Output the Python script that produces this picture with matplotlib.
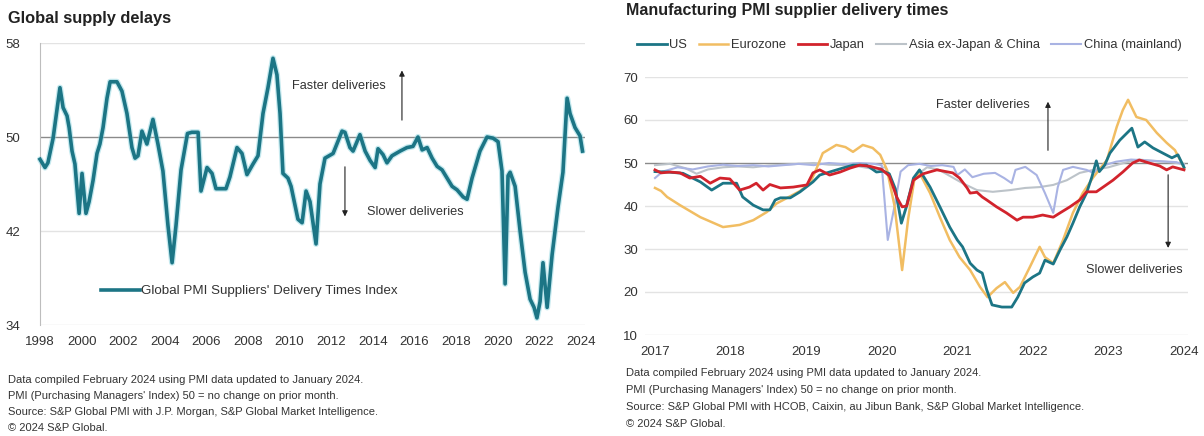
import numpy as np
import matplotlib
matplotlib.use("Agg")
import matplotlib.pyplot as plt

plt.rcParams['font.family'] = ['Liberation Sans', 'DejaVu Sans']

# ---------------- data: left panel (global index) ----------------
glob_t = [1998.00, 1998.24, 1998.38, 1998.63, 1998.96, 1999.11, 1999.30, 1999.40, 1999.54, 1999.68,
          1999.88, 2000.02, 2000.21, 2000.36, 2000.55, 2000.74, 2000.88, 2001.03, 2001.22, 2001.37,
          2001.70, 2001.94, 2002.18, 2002.42, 2002.57, 2002.71, 2002.90, 2003.14, 2003.43, 2003.67,
          2003.91, 2004.15, 2004.35, 2004.54, 2004.78, 2005.09, 2005.30, 2005.60, 2005.74, 2006.03,
          2006.27, 2006.46, 2006.94, 2007.13, 2007.47, 2007.71, 2007.95, 2008.24, 2008.48, 2008.72,
          2008.96, 2009.20, 2009.39, 2009.54, 2009.68, 2009.92, 2010.07, 2010.40, 2010.60, 2010.79,
          2010.98, 2011.27, 2011.46, 2011.70, 2012.09, 2012.52, 2012.66, 2012.90, 2013.05, 2013.38,
          2013.63, 2013.87, 2014.11, 2014.25, 2014.49, 2014.68, 2014.92, 2015.31, 2015.64, 2015.93,
          2016.17, 2016.37, 2016.61, 2016.85, 2017.09, 2017.33, 2017.57, 2017.81, 2018.05, 2018.34,
          2018.53, 2018.77, 2019.15, 2019.49, 2019.78, 2020.02, 2020.21, 2020.36, 2020.50, 2020.60,
          2020.84, 2021.08, 2021.32, 2021.56, 2021.75, 2021.89, 2022.04, 2022.18, 2022.38, 2022.62,
          2022.90, 2023.14, 2023.34, 2023.48, 2023.72, 2023.96, 2024.08]
glob_v = [48.1, 47.4, 47.8, 49.9, 54.2, 52.5, 51.8, 50.8, 48.8, 47.7,
          43.5, 46.9, 43.5, 44.5, 46.3, 48.6, 49.4, 50.8, 53.3, 54.7,
          54.7, 53.9, 52.0, 49.1, 48.2, 48.4, 50.5, 49.4, 51.5, 49.4,
          47.1, 42.5, 39.3, 42.5, 47.2, 50.3, 50.4, 50.4, 45.4, 47.4,
          46.9, 45.6, 45.6, 46.6, 49.1, 48.6, 46.8, 47.7, 48.4, 52.0,
          54.2, 56.7, 55.3, 52.0, 46.9, 46.5, 45.8, 43.0, 42.7, 45.4,
          44.5, 40.9, 46.0, 48.2, 48.6, 50.5, 50.4, 49.1, 48.8, 50.2,
          48.8, 48.0, 47.4, 49.0, 48.5, 47.8, 48.4, 48.8, 49.1, 49.2,
          50.0, 48.9, 49.1, 48.2, 47.5, 47.2, 46.5, 45.8, 45.5, 44.9,
          44.7, 46.5, 48.8, 50.0, 49.9, 49.6, 47.1, 37.5, 46.7, 47.0,
          45.8, 42.0, 38.5, 36.2, 35.5, 34.6, 36.0, 39.3, 35.5, 40.0,
          44.0, 47.0, 53.3, 52.0, 50.8, 50.1, 48.8]
glob_ticks = list(range(1998, 2025, 2))
glob_yticks = [34, 42, 50, 58]

# ---------------- data: right panel (regional indices) ----------------
us_t = [2017.00, 2017.17, 2017.37, 2017.60, 2017.75, 2017.90, 2018.08, 2018.16, 2018.30, 2018.43,
        2018.52, 2018.59, 2018.66, 2018.79, 2018.92, 2019.09, 2019.18, 2019.31, 2019.48, 2019.62,
        2019.80, 2019.93, 2020.02, 2020.10, 2020.18, 2020.26, 2020.33, 2020.42, 2020.50, 2020.64,
        2020.77, 2020.90, 2021.00, 2021.07, 2021.17, 2021.26, 2021.33, 2021.39, 2021.46, 2021.59,
        2021.72, 2021.80, 2021.89, 2022.00, 2022.09, 2022.16, 2022.27, 2022.36, 2022.45, 2022.53,
        2022.62, 2022.71, 2022.78, 2022.84, 2022.88, 2022.95, 2023.02, 2023.15, 2023.31, 2023.39,
        2023.48, 2023.59, 2023.72, 2023.84, 2023.92, 2024.00]
us_v = [48.0, 47.9, 47.6, 45.6, 43.7, 45.3, 45.3, 42.1, 40.2, 39.1,
        39.1, 41.4, 41.9, 41.9, 43.3, 45.6, 47.2, 47.9, 48.8, 49.5,
        49.5, 47.9, 48.1, 47.5, 44.0, 36.0, 40.0, 46.5, 48.4, 44.4,
        39.8, 35.1, 32.1, 30.5, 26.7, 25.1, 24.4, 20.5, 17.0, 16.5,
        16.5, 18.8, 22.1, 23.5, 24.4, 27.4, 26.5, 29.8, 32.8, 36.0,
        39.8, 43.0, 46.7, 50.5, 48.0, 49.5, 52.3, 55.3, 58.1, 53.7,
        54.9, 53.5, 52.3, 51.2, 51.9, 49.0]

ez_t = [2017.00, 2017.08, 2017.16, 2017.33, 2017.60, 2017.90, 2018.12, 2018.30, 2018.48, 2018.61,
        2018.75, 2018.92, 2019.05, 2019.14, 2019.22, 2019.40, 2019.52, 2019.62, 2019.75, 2019.88,
        2019.98, 2020.07, 2020.17, 2020.27, 2020.35, 2020.43, 2020.50, 2020.64, 2020.77, 2020.90,
        2021.03, 2021.17, 2021.30, 2021.40, 2021.52, 2021.63, 2021.74, 2021.83, 2021.96, 2022.09,
        2022.16, 2022.27, 2022.40, 2022.53, 2022.66, 2022.80, 2022.98, 2023.11, 2023.19, 2023.26,
        2023.37, 2023.50, 2023.64, 2023.77, 2023.88, 2023.97, 2024.00]
ez_v = [44.2, 43.5, 42.1, 40.2, 37.4, 35.1, 35.6, 36.7, 38.6, 40.6,
        41.9, 43.5, 45.3, 48.8, 52.3, 54.2, 53.7, 52.6, 54.2, 53.5,
        51.9, 48.4, 40.0, 25.1, 37.0, 46.0, 47.7, 43.0, 37.4, 32.1,
        28.1, 25.1, 21.2, 18.8, 20.9, 22.3, 19.8, 21.2, 25.8, 30.5,
        28.1, 26.7, 32.1, 38.4, 43.0, 46.7, 50.7, 58.4, 62.3, 64.7,
        60.7, 60.0, 57.0, 54.7, 53.0, 50.0, 48.8]

jp_t = [2017.00, 2017.08, 2017.20, 2017.33, 2017.46, 2017.60, 2017.73, 2017.86, 2017.99, 2018.12,
        2018.25, 2018.34, 2018.43, 2018.52, 2018.66, 2018.83, 2019.01, 2019.09, 2019.18, 2019.31,
        2019.45, 2019.58, 2019.71, 2019.85, 2020.00, 2020.10, 2020.20, 2020.27, 2020.33, 2020.42,
        2020.55, 2020.73, 2020.94, 2021.03, 2021.13, 2021.17, 2021.26, 2021.33, 2021.39, 2021.52,
        2021.65, 2021.79, 2021.87, 2022.00, 2022.13, 2022.27, 2022.36, 2022.49, 2022.62, 2022.71,
        2022.84, 2022.93, 2023.06, 2023.19, 2023.32, 2023.41, 2023.54, 2023.68, 2023.77, 2023.85,
        2024.00]
jp_v = [48.4, 47.7, 47.9, 47.7, 46.5, 46.9, 45.3, 46.5, 46.3, 43.7,
        44.4, 45.3, 43.7, 45.0, 44.2, 44.4, 44.9, 47.7, 48.4, 47.2,
        47.9, 48.8, 49.5, 49.2, 48.5, 47.0, 42.0, 39.8, 40.0, 46.0,
        47.5, 48.4, 47.7, 46.5, 44.2, 43.0, 43.2, 42.1, 41.4, 39.8,
        38.4, 36.7, 37.4, 37.4, 37.9, 37.4, 38.4, 39.8, 41.4, 43.3,
        43.3, 44.4, 46.0, 47.9, 50.0, 50.7, 50.0, 49.3, 48.4, 49.1,
        48.4]

asia_t = [2017.0, 2017.2, 2017.4, 2017.55, 2017.7, 2017.9, 2018.1, 2018.3, 2018.5, 2018.7,
          2018.9, 2019.1, 2019.3, 2019.5, 2019.7, 2019.9, 2020.05, 2020.15, 2020.27, 2020.35,
          2020.45, 2020.6, 2020.75, 2020.9, 2021.07, 2021.26, 2021.47, 2021.7, 2021.9, 2022.09,
          2022.27, 2022.45, 2022.62, 2022.8, 2023.0, 2023.2, 2023.4, 2023.6, 2023.8, 2024.0]
asia_v = [49.5, 49.8, 48.8, 47.5, 48.5, 49.0, 49.2, 49.0, 49.4, 49.6,
          49.8, 50.0, 49.6, 49.5, 49.2, 48.6, 49.0, 45.0, 36.5, 42.0,
          47.0, 49.0, 48.5, 47.0, 45.3, 43.7, 43.3, 43.7, 44.2, 44.4,
          44.9, 46.0, 47.7, 48.4, 49.0, 50.0, 50.8, 50.5, 50.2, 49.8]

cn_t = [2017.0, 2017.1, 2017.3, 2017.5, 2017.7, 2017.9, 2018.1, 2018.3, 2018.5, 2018.7,
        2018.9, 2019.1, 2019.3, 2019.5, 2019.7, 2019.9, 2020.0, 2020.08, 2020.17, 2020.25,
        2020.35, 2020.5, 2020.65, 2020.8, 2020.95, 2021.0, 2021.1, 2021.2, 2021.35, 2021.5,
        2021.62, 2021.72, 2021.77, 2021.9, 2022.05, 2022.16, 2022.27, 2022.33, 2022.4, 2022.53,
        2022.71, 2022.8, 2022.95, 2023.1, 2023.3, 2023.5, 2023.7, 2023.9, 2024.0]
cn_v = [46.5, 48.0, 49.0, 48.5, 49.2, 49.6, 49.3, 49.5, 49.2, 49.5,
        49.8, 49.5, 50.0, 49.7, 50.0, 49.8, 49.5, 32.1, 40.0, 48.0,
        49.5, 49.8, 49.3, 49.5, 49.1, 47.2, 48.5, 46.7, 47.5, 47.7,
        46.5, 45.3, 48.4, 49.1, 47.2, 43.0, 38.4, 44.4, 48.4, 49.1,
        48.4, 47.7, 49.5, 50.3, 50.8, 50.6, 50.4, 50.2, 49.6]

reg_ticks = list(range(2017, 2025))
reg_yticks = [10, 20, 30, 40, 50, 60, 70]

teal = '#1c7585'
grid_c = '#e3e3e3'
ref_c = '#8a8a8a'
txt_c = '#333333'
tick_fs = 9.5
note_fs = 8.0
ann_fs = 9.2

fig = plt.figure(figsize=(12.04, 4.36), dpi=100)
W, H = 1204, 436

def px_axes(x0, y0, x1, y1):
    # pixel box (top-left origin) -> figure axes
    return fig.add_axes([x0 / W, 1 - y1 / H, (x1 - x0) / W, (y1 - y0) / H])

# ---------------- left panel ----------------
ax1 = px_axes(40, 43, 585, 325)
ax1.set_xlim(1998, 2024.2)
ax1.set_ylim(34, 58)
for y in glob_yticks:
    if y == 50:
        ax1.axhline(y, color=ref_c, lw=1.0, zorder=1)
    else:
        ax1.axhline(y, color=grid_c, lw=1.0, zorder=0)
ax1.plot(glob_t, glob_v, color='#7fd0dc', lw=4.4, alpha=0.45, solid_capstyle='round', zorder=2, clip_on=False)
ax1.plot(glob_t, glob_v, color=teal, lw=2.6, zorder=3, clip_on=False,
         label="Global PMI Suppliers' Delivery Times Index")
ax1.set_xticks(glob_ticks)
ax1.set_yticks(glob_yticks)
for s in ['top', 'right', 'bottom']:
    ax1.spines[s].set_visible(False)
ax1.spines['left'].set_color('#bdbdbd')
ax1.tick_params(axis='both', length=0, labelsize=tick_fs, labelcolor=txt_c)
ax1.tick_params(axis='y', pad=14)
ax1.tick_params(axis='x', pad=8)
leg1 = ax1.legend(loc='center left', bbox_to_anchor=(0.112, 0.12), frameon=False, fontsize=9.6,
                  handlelength=2.9, handletextpad=0.1, borderpad=0, borderaxespad=0)
for t in leg1.get_texts():
    t.set_color(txt_c)

ax1.annotate('', xy=(2015.4, 55.9), xytext=(2015.4, 51.2),
             arrowprops=dict(arrowstyle='-|>', color='#222222', lw=0.8, mutation_scale=8))
ax1.text(2014.6, 54.3, 'Faster deliveries', ha='right', va='center', fontsize=ann_fs, color=txt_c)
ax1.annotate('', xy=(2012.66, 43.0), xytext=(2012.66, 47.7),
             arrowprops=dict(arrowstyle='-|>', color='#222222', lw=0.8, mutation_scale=8))
ax1.text(2013.7, 43.6, 'Slower deliveries', ha='left', va='center', fontsize=ann_fs, color=txt_c)

fig.text(8 / W, 1 - 18 / H, 'Global supply delays', fontsize=11.8, fontweight='bold',
         color='#222222', ha='left', va='center')

left_notes = ['Data compiled February 2024 using PMI data updated to January 2024.',
              "PMI (Purchasing Managers' Index) 50 = no change on prior month.",
              'Source: S&P Global PMI with J.P. Morgan, S&P Global Market Intelligence.',
              '\u00a9 2024 S&P Global.']
for i, line in enumerate(left_notes):
    fig.text(8 / W, 1 - (380 + i * 16) / H, line, fontsize=note_fs, color=txt_c, ha='left', va='center')

# ---------------- right panel ----------------
ax2 = px_axes(645, 77, 1188, 335)
ax2.set_xlim(2017 - 10 / 75.57, 2024 + 4 / 75.57)
ax2.set_ylim(10, 70)
for y in reg_yticks:
    if y == 50:
        ax2.axhline(y, color=ref_c, lw=1.0, zorder=1)
    else:
        ax2.axhline(y, color=grid_c, lw=1.0, zorder=0)
ax2.plot(asia_t, asia_v, color='#bcc3c9', lw=1.5, zorder=2, clip_on=False, label='Asia ex-Japan & China')
ax2.plot(cn_t, cn_v, color='#a9b3e3', lw=1.5, zorder=2, clip_on=False, label='China (mainland)')
ax2.plot(ez_t, ez_v, color='#f1bd62', lw=1.8, zorder=3, clip_on=False, label='Eurozone')
ax2.plot(us_t, us_v, color=teal, lw=2.0, zorder=4, clip_on=False, label='US')
ax2.plot(jp_t, jp_v, color='#d2232c', lw=2.0, zorder=5, clip_on=False, label='Japan')
ax2.set_xticks(reg_ticks)
ax2.set_yticks(reg_yticks)
for s in ax2.spines.values():
    s.set_visible(False)
ax2.tick_params(axis='both', length=0, labelsize=tick_fs, labelcolor=txt_c)
ax2.tick_params(axis='y', pad=5)
ax2.tick_params(axis='x', pad=8)

handles, labels = ax2.get_legend_handles_labels()
order = ['US', 'Eurozone', 'Japan', 'Asia ex-Japan & China', 'China (mainland)']
hmap = dict(zip(labels, handles))
leg2 = ax2.legend([hmap[k] for k in order], order, loc='center left',
                  bbox_to_anchor=(-0.015, 1.124), ncol=5, frameon=False, fontsize=9.3,
                  handlelength=2.3, handletextpad=0.2, columnspacing=0.9,
                  borderpad=0, borderaxespad=0)
for t in leg2.get_texts():
    t.set_color(txt_c)

ax2.annotate('', xy=(2022.2, 64.9), xytext=(2022.2, 52.3),
             arrowprops=dict(arrowstyle='-|>', color='#222222', lw=0.8, mutation_scale=8))
ax2.text(2021.96, 63.5, 'Faster deliveries', ha='right', va='center', fontsize=ann_fs, color=txt_c)
ax2.annotate('', xy=(2023.79, 29.6), xytext=(2023.79, 47.9),
             arrowprops=dict(arrowstyle='-|>', color='#222222', lw=0.8, mutation_scale=8))
ax2.text(2023.98, 25.1, 'Slower deliveries', ha='right', va='center', fontsize=ann_fs, color=txt_c)

fig.text(626 / W, 1 - 11 / H, 'Manufacturing PMI supplier delivery times', fontsize=11.5,
         fontweight='bold', color='#222222', ha='left', va='center')

right_notes = ['Data compiled February 2024 using PMI data updated to January 2024.',
               "PMI (Purchasing Managers' Index) 50 = no change on prior month.",
               'Source: S&P Global PMI with HCOB, Caixin, au Jibun Bank, S&P Global Market Intelligence.',
               '\u00a9 2024 S&P Global.']
for i, line in enumerate(right_notes):
    fig.text(626 / W, 1 - (373 + i * 17) / H, line, fontsize=note_fs, color=txt_c, ha='left', va='center')

fig.savefig('out.png', dpi=100)
